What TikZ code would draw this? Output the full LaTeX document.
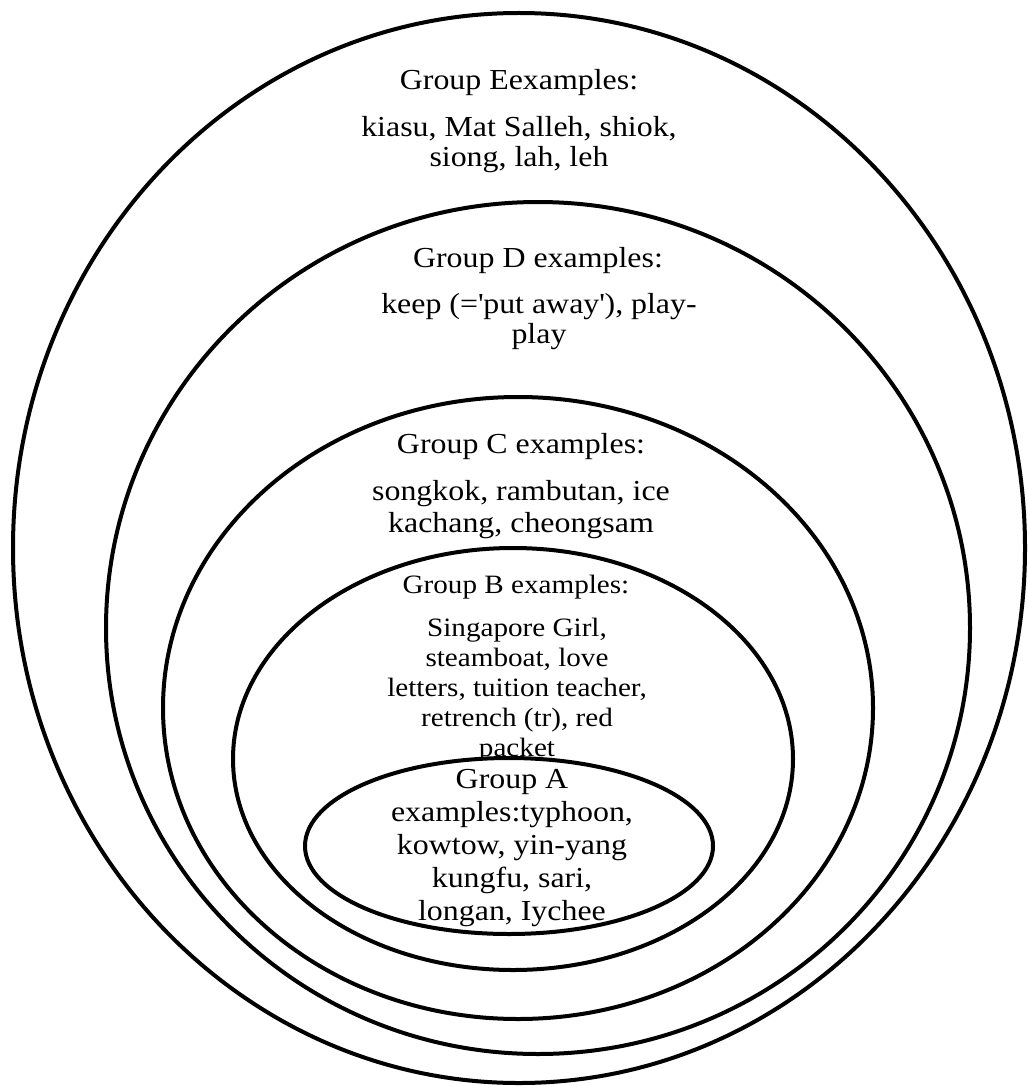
\documentclass[tikz,border=0pt]{standalone}
\usepackage{fontspec}
\setmainfont[FakeStretch=1.1]{Liberation Serif}
\usetikzlibrary{shapes.geometric}
\begin{document}
\begin{tikzpicture}[x=1pt,y=-1pt,
    ring/.style={shape=ellipse,draw,line width=4pt,fill=white,inner sep=0pt},
    grptext/.style={align=center,inner sep=0pt,anchor=base,font=\fontsize{29}{30}\selectfont}]
    \useasboundingbox (0,0) rectangle (1028,1086);
    % outermost ring, group E (base = last line)
    \node[ring,minimum width=1012pt,minimum height=1070pt] (ringE) at (519,548) {};
    \node[grptext] (titleE) at (519,90) {Group Eexamples:};
    \node[grptext] (textE) at (519,167) {kiasu, Mat Salleh, shiok,\\siong, lah, leh};
    % group D
    \node[ring,minimum width=864pt,minimum height=852pt] (ringD) at (538,628) {};
    \node[grptext] (titleD) at (538,267) {Group D examples:};
    \node[grptext] (textD) at (539,343) {keep (=\textquotesingle put away\textquotesingle), play-\\play};
    % group C
    \node[ring,minimum width=710pt,minimum height=622pt] (ringC) at (518,708) {};
    \node[grptext] (titleC) at (521,453) {Group C examples:};
    \node[grptext,font=\fontsize{29}{32}\selectfont] (textC) at (521,532) {songkok, rambutan, ice\\kachang, cheongsam};
    % group B
    \node[ring,minimum width=560pt,minimum height=422pt] (ringB) at (513,759) {};
    \node[grptext,font=\fontsize{26.5}{29.5}\selectfont] (titleB) at (516,593) {Group B examples:};
    \node[grptext,font=\fontsize{26.5}{30}\selectfont] (textB) at (517,756) {Singapore Girl,\\steamboat, love\\letters, tuition teacher,\\retrench (tr), red\\packet};
    % innermost ring, group A
    \node[ring,minimum width=408pt,minimum height=176pt] (ringA) at (509,846) {};
    \begin{scope}
        \clip (ringA.center) ellipse [x radius=204, y radius=88];
        \node[grptext,font=\fontsize{29}{33}\selectfont] (textA) at (512,920) {Group A\\examples:typhoon,\\kowtow, yin-yang\\kungfu, sari,\\longan, Iychee};
    \end{scope}
\end{tikzpicture}
\end{document}
